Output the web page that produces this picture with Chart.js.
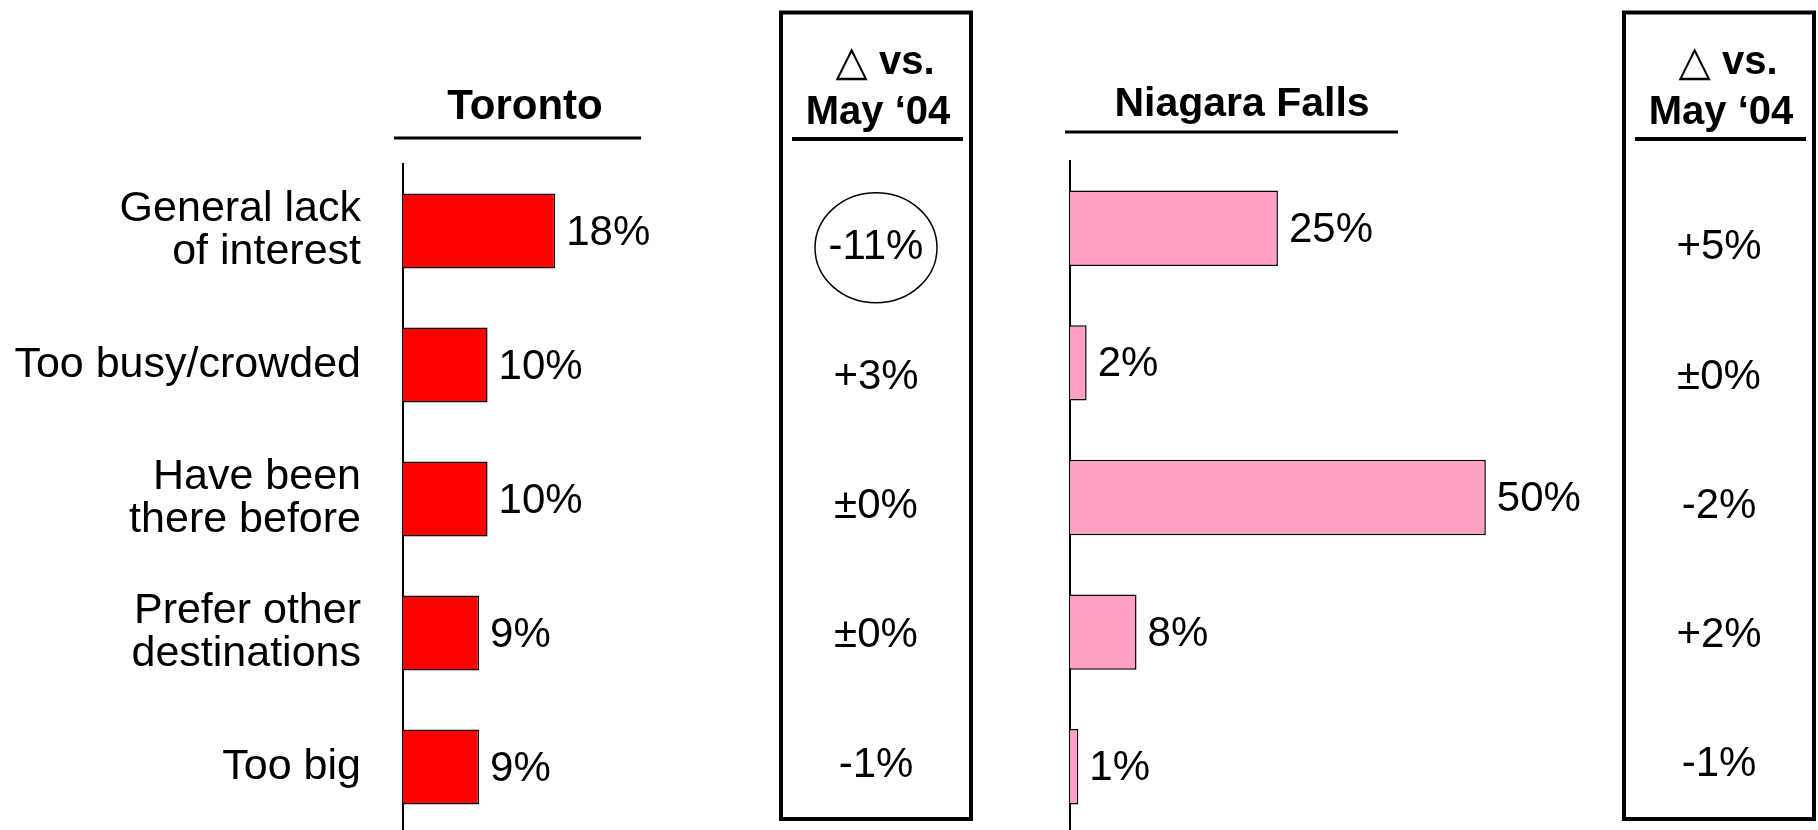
<!DOCTYPE html>
<html>
<head>
<meta charset="utf-8">
<title>Reasons for not visiting</title>
<script src="https://cdn.jsdelivr.net/npm/chart.js@4.4.0/dist/chart.umd.min.js"></script>
<style>
  html, body { margin: 0; padding: 0; background: #fff; overflow: hidden; }
  #page { position: relative; width: 1818px; height: 830px; }
  canvas { position: absolute; top: 0; }
  #torontoChart { left: 0; }
  #niagaraChart { left: 1000px; }
</style>
</head>
<body>
<div id="page">
  <canvas id="torontoChart" width="1000" height="840"></canvas>
  <canvas id="niagaraChart" width="818" height="840"></canvas>
</div>
<script>
const reasons = [
  ["General lack", "of interest"],
  "Too busy/crowded",
  ["Have been", "there before"],
  ["Prefer other", "destinations"],
  "Too big",
];
const torontoValues = [18, 10, 10, 9, 9];
const torontoChange = [-11, 3, 0, 0, -1];
const niagaraValues = [25, 2, 50, 8, 1];
const niagaraChange = [5, 0, -2, 2, -1];
const changeHeading = ["vs.", "May \u201804"];

const FONT = "'Liberation Sans', Arial, Helvetica, sans-serif";
Chart.defaults.font.family = FONT;
Chart.defaults.color = "#000";

function formatChange(v) {
  if (v > 0) return "+" + v + "%";
  if (v === 0) return "\u00b10%";
  return v + "%";
}

// draws value labels, panel title and the "change vs. May '04" box
const panelDecor = {
  id: "panelDecor",
  afterDatasetsDraw(chart, args, opts) {
    const ctx = chart.ctx;
    const yScale = chart.scales.y;
    const values = chart.data.datasets[0].data;
    ctx.save();
    ctx.fillStyle = "#000";
    ctx.strokeStyle = "#000";

    ctx.font = "42px " + FONT;
    ctx.textAlign = "left";
    ctx.textBaseline = "middle";
    chart.getDatasetMeta(0).data.forEach((bar, i) => {
      ctx.fillText(values[i] + "%", bar.x + 11, bar.y + 2);
    });

    ctx.font = "bold " + opts.titleSize + "px " + FONT;
    ctx.textAlign = "center";
    ctx.textBaseline = "alphabetic";
    ctx.fillText(opts.title, opts.titleX, opts.titleY);
    ctx.lineWidth = 3;
    ctx.beginPath();
    ctx.moveTo(opts.rule[0], opts.rule[2]);
    ctx.lineTo(opts.rule[1], opts.rule[2]);
    ctx.stroke();

    const b = opts.box;
    const cx = (b.left + b.right) / 2;
    ctx.lineWidth = 4;
    ctx.strokeRect(b.left, b.top, b.right - b.left, b.bottom - b.top);

    // heading: thin delta triangle followed by bold text
    const tri = "\u25B3";
    ctx.font = "42px 'DejaVu Sans'";
    const wTri = ctx.measureText(tri).width;
    ctx.font = "bold 40px " + FONT;
    const wVs = ctx.measureText(" " + changeHeading[0]).width;
    const x0 = cx - (wTri + wVs) / 2 + 9;
    ctx.textAlign = "left";
    ctx.font = "42px 'DejaVu Sans'";
    ctx.fillText(tri, x0, 75);
    ctx.font = "bold 40px " + FONT;
    ctx.fillText(" " + changeHeading[0], x0 + wTri, 74);
    ctx.textAlign = "center";
    ctx.fillText(changeHeading[1], cx + 2, 124);
    ctx.lineWidth = 4;
    ctx.beginPath();
    ctx.moveTo(b.left + 11, 139);
    ctx.lineTo(b.right - 8, 139);
    ctx.stroke();

    ctx.font = "42px " + FONT;
    ctx.textBaseline = "middle";
    opts.change.forEach((v, i) => {
      const y = yScale.getPixelForValue(opts.changeStart + i * opts.changeStep);
      ctx.fillText(formatChange(v), cx, y);
      if (i === opts.highlight) {
        ctx.lineWidth = 1.5;
        ctx.beginPath();
        ctx.ellipse(cx, y, 61, 55, 0, 0, Math.PI * 2);
        ctx.stroke();
      }
    });
    ctx.restore();
  }
};

function makePanel(canvasId, values, color, xMax, axisWidth, padTop, padRight, showLabels, decor) {
  return new Chart(document.getElementById(canvasId), {
    type: "bar",
    data: {
      labels: reasons,
      datasets: [{
        data: values,
        backgroundColor: color,
        borderColor: "#000",
        borderWidth: 1.5,
        borderSkipped: "start",
        categoryPercentage: 1,
        barPercentage: 0.56,
      }],
    },
    options: {
      indexAxis: "y",
      responsive: false,
      animation: false,
      devicePixelRatio: 1,
      layout: { padding: { top: padTop, bottom: 6, left: 0, right: padRight } },
      scales: {
        x: { display: false, min: 0, max: xMax },
        y: {
          position: "left",
          grid: { display: false, drawTicks: false },
          border: { display: true, color: "#000", width: 2 },
          ticks: {
            display: showLabels,
            padding: 42,
            color: "#000",
            font: { size: 43, lineHeight: 1.0 },
          },
          afterFit(scale) {
            // fixed axis position; labels never need extra room above/below
            scale.width = axisWidth;
            scale.paddingTop = 0;
            scale.paddingBottom = 0;
          },
        },
      },
      plugins: {
        legend: { display: false },
        tooltip: { enabled: false },
        panelDecor: decor,
      },
    },
    plugins: [panelDecor],
  });
}

makePanel("torontoChart", torontoValues, "#FF0000", 59, 403, 164, 98, true, {
  title: "Toronto",
  titleSize: 42,
  titleX: 525,
  titleY: 119,
  rule: [394, 641, 138],
  box: { left: 781, right: 971, top: 12.5, bottom: 819 },
  change: torontoChange,
  changeStart: 0.125,
  changeStep: 0.965,
  highlight: 0,
});

makePanel("niagaraChart", niagaraValues, "#FF9FC6", 60, 70, 161, 249, false, {
  title: "Niagara Falls",
  titleSize: 41,
  titleX: 242,
  titleY: 116,
  rule: [65, 398, 132],
  box: { left: 624, right: 814, top: 12.5, bottom: 819 },
  change: niagaraChange,
  changeStart: 0.145,
  changeStep: 0.96,
  highlight: -1,
});
</script>
</body>
</html>
